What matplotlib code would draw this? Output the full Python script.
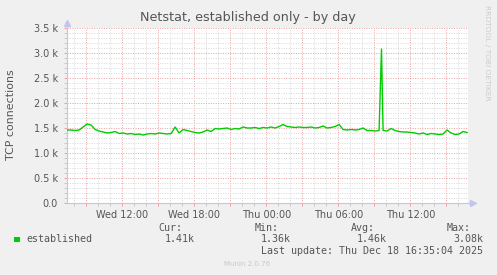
import numpy as np
import matplotlib
matplotlib.use('Agg')
import matplotlib.pyplot as plt
from matplotlib.patches import Rectangle
from matplotlib.ticker import MultipleLocator, FixedLocator, FuncFormatter

W, H = 497, 275

# netstat established, k connections, one sample every 20 min from Wed 07:24
start_hour = 7.4
step_hour = 1 / 3
established = [
    1.46, 1.46, 1.45, 1.46, 1.52, 1.58, 1.56, 1.47, 1.44, 1.42,
    1.40, 1.41, 1.43, 1.39, 1.40, 1.38, 1.39, 1.37, 1.38, 1.36,
    1.38, 1.39, 1.38, 1.40, 1.39, 1.38, 1.39, 1.52, 1.40, 1.47,
    1.45, 1.43, 1.41, 1.40, 1.42, 1.46, 1.43, 1.49, 1.48, 1.49,
    1.50, 1.47, 1.49, 1.48, 1.52, 1.50, 1.50, 1.51, 1.49, 1.51,
    1.50, 1.52, 1.50, 1.53, 1.57, 1.53, 1.52, 1.51, 1.52, 1.51,
    1.51, 1.52, 1.50, 1.51, 1.54, 1.50, 1.51, 1.53, 1.57, 1.47,
    1.46, 1.47, 1.46, 1.47, 1.50, 1.45, 1.45, 1.44, 1.45, 1.45,
    1.44, 1.49, 1.45, 1.43, 1.42, 1.42, 1.41, 1.40, 1.38, 1.40,
    1.37, 1.39, 1.38, 1.37, 1.38, 1.46, 1.40, 1.37, 1.38, 1.43,
    1.41,
]
# the one short spike on Thursday morning
spike_hour = 33.6
spike_value = 3.08

hour_ticks = [12, 18, 24, 30, 36]
hour_labels = ['Wed 12:00', 'Wed 18:00', 'Thu 00:00', 'Thu 06:00', 'Thu 12:00']
y_ticks = [0, 0.5, 1.0, 1.5, 2.0, 2.5, 3.0, 3.5]
y_labels = ['0.0', '0.5 k', '1.0 k', '1.5 k', '2.0 k', '2.5 k', '3.0 k', '3.5 k']

legend_heads = ['Cur:', 'Min:', 'Avg:', 'Max:']
legend_vals = ['1.41k', '1.36k', '1.46k', '3.08k']

hours = start_hour + step_hour * np.arange(len(established))
t = np.append(hours, spike_hour)
v = np.append(established, spike_value)
order = np.argsort(t)
t, v = t[order], v[order]

txt = '#555555'
axis_col = '#c4c4f0'

fig = plt.figure(figsize=(W / 100, H / 100), dpi=100, facecolor='#f0f0f0')
ax = fig.add_axes([67 / W, 72 / H, 401 / W, 175 / H], facecolor='white')

ax.plot(t, v, color='#00cc00', lw=1.0, zorder=3)

ax.set_xlim(7.39, 40.81)
ax.set_ylim(0, 3.5)

# grid like rrdtool: hourly / 0.1k gray, 3 hourly / 0.5k red
ax.xaxis.set_major_locator(FixedLocator(np.arange(9, 40, 3)))
ax.xaxis.set_minor_locator(MultipleLocator(1))
lab = dict(zip(hour_ticks, hour_labels))
ax.xaxis.set_major_formatter(FuncFormatter(lambda x, p: lab.get(int(round(x)), '')))
ax.yaxis.set_major_locator(FixedLocator(y_ticks))
ax.yaxis.set_minor_locator(MultipleLocator(0.1))
ax.set_yticklabels(y_labels)

ax.grid(which='minor', color='#d8d8d8', ls=(0, (1, 1.5)), lw=0.7)
ax.grid(which='major', color='#eaa0a0', ls=(0, (1, 1.5)), lw=0.7)
ax.set_axisbelow(True)

ax.tick_params(which='both', direction='out', length=2, width=0.7,
               labelsize=7, labelcolor=txt)
ax.tick_params(which='minor', color='#c8c8c8')
ax.tick_params(which='major', color='#e8a0a0')
ax.tick_params(axis='y', pad=4.5)
ax.tick_params(axis='x', pad=3)

for s in ['top', 'right']:
    ax.spines[s].set_visible(False)
for s in ['left', 'bottom']:
    ax.spines[s].set_color(axis_col)
    ax.spines[s].set_linewidth(0.8)

# axis arrows
ax.plot([1, 1.012], [0, 0], color=axis_col, lw=0.8, transform=ax.transAxes, clip_on=False)
ax.plot([1.012], [0], marker='>', ms=4, color=axis_col, transform=ax.transAxes, clip_on=False)
ax.plot([0, 0], [1, 1.03], color=axis_col, lw=0.8, transform=ax.transAxes, clip_on=False)
ax.plot([0], [1.03], marker='^', ms=4, color=axis_col, transform=ax.transAxes, clip_on=False)

def fx(px):
    return px / W

def fy(py):
    return 1 - py / H

fig.text(fx(248), fy(17), 'Netstat, established only - by day', fontsize=9.2,
         color=txt, ha='center', va='center')
fig.text(fx(11), fy(115), 'TCP connections', fontsize=7.9, color=txt,
         rotation=90, ha='center', va='center')
fig.text(fx(487.5), fy(53), 'RRDTOOL / TOBI OETIKER', fontsize=5.4, color='#cccccc',
         rotation=270, ha='center', va='center')

mono = 'DejaVu Sans Mono'
fig.add_artist(Rectangle((fx(14), fy(242.3)), 5.5 / W, 5.5 / H,
                         transform=fig.transFigure, color='#00cc00', lw=0))
fig.text(fx(26), fy(239.5), 'established', family=mono, fontsize=7.2, color=txt, va='center')
head_x = [158, 254.5, 350.5, 446.5]
for hx, hd, vl in zip(head_x, legend_heads, legend_vals):
    fig.text(fx(hx), fy(228), hd, family=mono, fontsize=7.2, color=txt, va='center')
    fig.text(fx(hx + 6.5), fy(239.5), vl, family=mono, fontsize=7.2, color=txt, va='center')
fig.text(fx(261), fy(251), 'Last update: Thu Dec 18 16:35:04 2025', family=mono,
         fontsize=7.2, color=txt, va='center')
fig.text(fx(247.5), fy(264.5), 'Munin 2.0.76', fontsize=5, color='#c8c8c8',
         ha='center', va='center')

fig.savefig('out.png', dpi=100, facecolor=fig.get_facecolor())
